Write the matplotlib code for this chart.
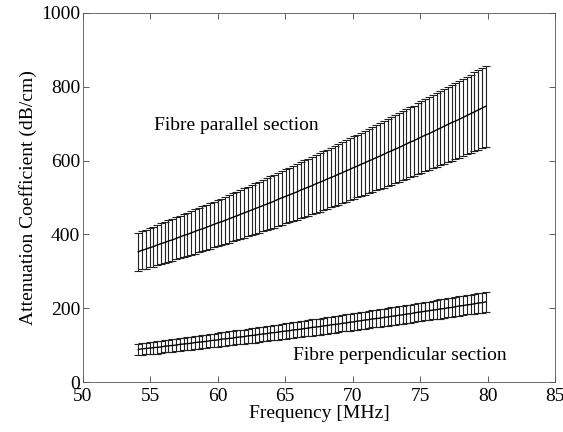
import matplotlib
matplotlib.use("Agg")
import matplotlib.pyplot as plt

freq = [54.10, 54.38, 54.66, 54.94, 55.22, 55.50, 55.78, 56.06, 56.34, 56.62, 56.90, 57.18,
        57.46, 57.74, 58.02, 58.30, 58.58, 58.86, 59.14, 59.42, 59.70, 59.98, 60.26, 60.54,
        60.82, 61.10, 61.38, 61.66, 61.94, 62.22, 62.50, 62.78, 63.06, 63.34, 63.62, 63.90,
        64.18, 64.46, 64.74, 65.02, 65.30, 65.58, 65.86, 66.14, 66.42, 66.70, 66.98, 67.26,
        67.54, 67.82, 68.10, 68.38, 68.66, 68.94, 69.22, 69.50, 69.78, 70.06, 70.34, 70.62,
        70.90, 71.18, 71.46, 71.74, 72.02, 72.30, 72.58, 72.86, 73.14, 73.42, 73.70, 73.98,
        74.26, 74.54, 74.82, 75.10, 75.38, 75.66, 75.94, 76.22, 76.50, 76.78, 77.06, 77.34,
        77.62, 77.90, 78.18, 78.46, 78.74, 79.02, 79.30, 79.58, 79.86]

par_mean = [353, 357, 360, 364, 367, 371, 375, 378, 382, 385, 389, 393, 397, 400, 404, 408,
            412, 415, 419, 423, 427, 431, 434, 438, 442, 446, 450, 454, 458, 462, 466, 470,
            474, 478, 482, 486, 490, 495, 499, 503, 507, 511, 515, 520, 524, 528, 532, 537,
            541, 545, 550, 554, 558, 563, 567, 572, 576, 581, 585, 590, 594, 599, 603, 608,
            612, 617, 622, 626, 631, 635, 640, 645, 650, 654, 659, 664, 669, 673, 678, 683,
            688, 693, 698, 703, 707, 712, 717, 722, 727, 732, 737, 742, 747]
par_err = [52, 52, 53, 53, 54, 54, 55, 55, 56, 56, 57, 57, 58, 58, 59, 60, 60, 61, 61, 62,
           62, 63, 63, 64, 65, 65, 66, 66, 67, 67, 68, 69, 69, 70, 70, 71, 72, 72, 73, 73,
           74, 75, 75, 76, 77, 77, 78, 78, 79, 80, 80, 81, 81, 82, 83, 84, 84, 85, 85, 86,
           87, 87, 88, 89, 89, 90, 91, 91, 92, 93, 93, 94, 95, 95, 96, 97, 98, 98, 99, 100,
           100, 101, 102, 103, 103, 104, 105, 105, 106, 107, 108, 108, 109]

perp_mean = [88, 90, 91, 92, 93, 94, 95, 97, 98, 99, 100, 102, 103, 104, 105, 107, 108, 109,
             110, 112, 113, 114, 116, 117, 118, 119, 121, 122, 123, 125, 126, 127, 129, 130,
             131, 133, 134, 135, 137, 138, 139, 141, 142, 143, 145, 146, 148, 149, 150, 152,
             153, 155, 156, 157, 159, 160, 162, 163, 165, 166, 168, 169, 171, 172, 173, 175,
             176, 178, 179, 181, 182, 184, 185, 187, 189, 190, 192, 193, 195, 196, 198, 199,
             201, 202, 204, 206, 207, 209, 210, 212, 214, 215, 217]
perp_err = [16, 16, 16, 16, 16, 17, 17, 17, 17, 17, 17, 17, 17, 18, 18, 18, 18, 18, 18, 18,
            18, 19, 19, 19, 19, 19, 19, 19, 19, 19, 20, 20, 20, 20, 20, 20, 20, 20, 21, 21,
            21, 21, 21, 21, 21, 21, 22, 22, 22, 22, 22, 22, 22, 22, 22, 23, 23, 23, 23, 23,
            23, 23, 23, 24, 24, 24, 24, 24, 24, 24, 24, 25, 25, 25, 25, 25, 25, 25, 25, 25,
            26, 26, 26, 26, 26, 26, 26, 26, 27, 27, 27, 27, 27]

x_ticks = [50, 55, 60, 65, 70, 75, 80, 85]
y_ticks = [0, 200, 400, 600, 800, 1000]

FS = 14
plt.rcParams['font.family'] = ['Liberation Serif', 'DejaVu Serif']
fig = plt.figure(figsize=(5.63, 4.32), dpi=100)
ax = fig.add_axes([0.1474, 0.1157, 0.8384, 0.8543])

for m, e in ((par_mean, par_err), (perp_mean, perp_err)):
    ax.errorbar(freq, m, yerr=e, color='black', ecolor='#222222', elinewidth=0.8,
                capsize=2.6, capthick=0.8, linewidth=1.0)

ax.text(55.3, 696, 'Fibre parallel section', fontsize=FS, va='center', ha='left')
ax.text(65.55, 73, 'Fibre perpendicular section', fontsize=FS, va='center', ha='left')

ax.set_xlim(50, 85)
ax.set_ylim(0, 1000)
ax.set_xticks(x_ticks)
ax.set_yticks(y_ticks)
ax.tick_params(direction='in', length=4, width=0.6, labelsize=FS, top=True, right=True,
               color='#444444', pad=2)
ax.tick_params(axis='x', pad=4)
for s in ax.spines.values():
    s.set_linewidth(0.6)
    s.set_color('#555555')
ax.set_xlabel('Frequency [MHz]', fontsize=FS, labelpad=0)
ax.set_ylabel('Attenuation Coefficient (dB/cm)', fontsize=FS, labelpad=3)

fig.savefig('out.png', dpi=100)
